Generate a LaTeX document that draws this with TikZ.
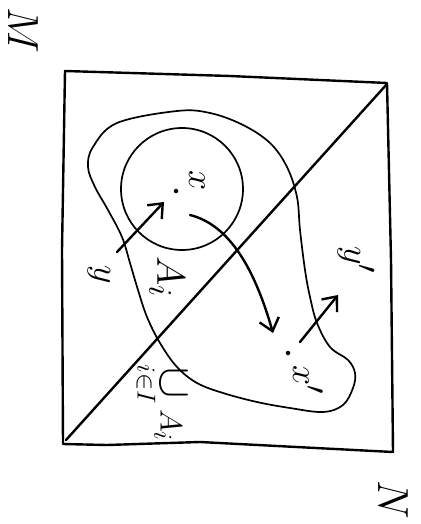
\documentclass[tikz,border=0pt]{standalone}
\usepackage{amsmath}
\usepackage{tikz}
\usetikzlibrary{arrows.meta}
\tikzset{
  ink/.style={line width=2.4pt, line cap=round, line join=round},
  thinink/.style={line width=1.7pt, line cap=round, line join=round},
  inkarr/.style={ink, -{Straight Barb[length=12pt, width=20pt]}},
  handlabel/.style={rotate=-90, scale=#1, inner sep=0pt, font=\Huge},
  handlabel/.default=1.45,
  inkdot/.style={circle, fill=black, inner sep=0pt, minimum size=4.5pt}
}

\begin{document}
\begin{tikzpicture}[x=1pt, y=-1pt]

\useasboundingbox (0,0) rectangle (420,524);

\draw[ink] (65,71) -- (230,76) -- (387,83) -- (391,260) -- (393,452) -- (200,442) -- (107,445) -- (63,444) -- (62,250) -- cycle;
\draw[ink] (66,440) -- (387,84);

\draw[thinink] (182,189) circle[radius=61pt];
\draw[thinink] plot[smooth cycle, tension=0.6] coordinates {
  (177,111) (117,123) (93,147) (88,167) (95,187) (108,210) (122,237)
  (130,263) (138,290) (147,317) (160,343) (177,367) (197,383) (223,393)
  (257,402) (290,408) (323,412) (343,405) (353,388) (355,373) (348,360)
  (330,347) (317,323) (310,297) (305,270) (300,230) (297,197) (287,167)
  (270,143) (243,125) (210,113)};

\node[handlabel=1.75] (mlabel) at (23,30) {$M$};
\node[handlabel=1.75] (nlabel) at (393,500) {$N$};

\node[inkdot] (xdot) at (176,191) {};
\node[handlabel] (xlabel) at (197,181) {$x$};
\node[inkdot] (xpdot) at (288,353) {};
\node[handlabel] (xplabel) at (308,380) {$x'$};
\node[handlabel] (ylabel) at (99,275) {$y$};
\node[handlabel] (yplabel) at (356,260) {$y'$};
\node[handlabel=1.6] (ailabel) at (167,277) {$A_i$};
\node[handlabel=1.25] (unionlabel) at (160,403) {$\mathop{\scalebox{1.5}{$\cup$}}\limits_{i\in I} A_i$};

\coordinate (ytail) at (117,252);
\coordinate (yhead) at (164,202);
\coordinate (xtail) at (190,215);
\coordinate (xphead) at (273,333);
\coordinate (yptail) at (300,342);
\coordinate (yphead) at (338,295);

\draw[inkarr] (ytail) -- (yhead);
\draw[inkarr] (xtail) .. controls (230,225) and (255,270) .. (xphead);
\draw[inkarr] (yptail) -- (yphead);

\end{tikzpicture}
\end{document}
